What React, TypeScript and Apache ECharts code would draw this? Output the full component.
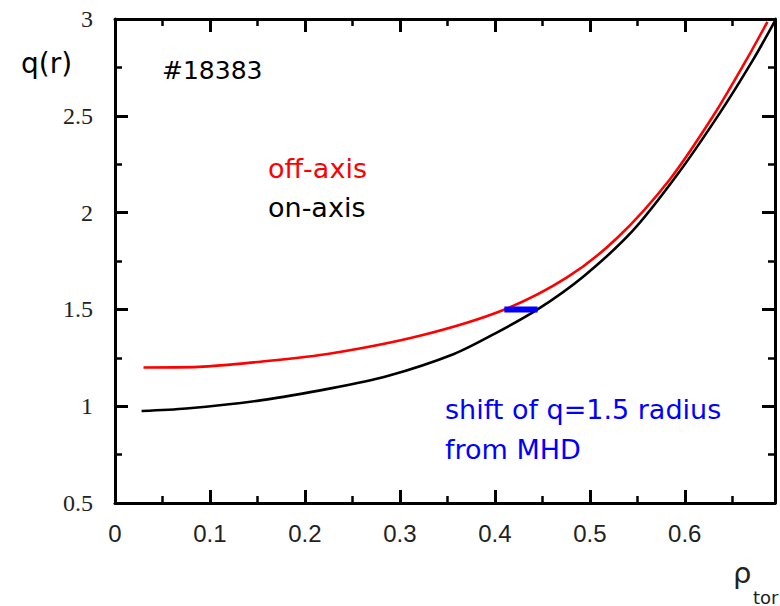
import React, { useEffect, useRef } from "react";
import * as echarts from "echarts";

// q-profile for shot #18383: off-axis vs on-axis heating
const offAxisRho = [0.030, 0.088, 0.153, 0.227, 0.322, 0.409, 0.476, 0.529, 0.584, 0.630, 0.665, 0.687];
const offAxisQ = [1.200, 1.203, 1.230, 1.272, 1.365, 1.497, 1.665, 1.870, 2.170, 2.500, 2.790, 2.985];

const onAxisRho = [0.028, 0.075, 0.153, 0.227, 0.287, 0.357, 0.400, 0.445, 0.493, 0.545, 0.592, 0.637, 0.672, 0.695];
const onAxisQ = [0.975, 0.988, 1.030, 1.092, 1.156, 1.270, 1.375, 1.500, 1.669, 1.905, 2.195, 2.515, 2.790, 2.990];

// q = 1.5 radius shift (off-axis → on-axis)
const shiftRho = [0.410, 0.445];
const shiftQ = [1.5, 1.5];

const xTickInterval = 0.1;
const yTickInterval = 0.5;

const pairs = (xs: number[], ys: number[]) => xs.map((x, i) => [x, ys[i]]);

export default function App() {
  const ref = useRef<HTMLDivElement>(null);

  useEffect(() => {
    if (!ref.current) return;
    const chart = echarts.init(ref.current, undefined, { renderer: "svg" });

    const frameLine = { show: true, onZero: false, lineStyle: { color: "#000", width: 3 } };
    const majorTick = { show: true, inside: true, length: 13, lineStyle: { color: "#000", width: 3 } };
    const minorTick = { show: true, splitNumber: 2, length: 7, lineStyle: { color: "#000", width: 2.5 } };

    chart.setOption({
      animation: false,
      backgroundColor: "#fff",
      grid: { left: 115, right: 5, top: 19, bottom: 103, containLabel: false },
      xAxis: [
        {
          type: "value",
          position: "bottom",
          min: 0,
          max: 0.695,
          interval: xTickInterval,
          axisLine: frameLine,
          axisTick: majorTick,
          minorTick,
          splitLine: { show: false },
          axisLabel: {
            margin: 18,
            showMaxLabel: false,
            fontFamily: "Liberation Sans",
            fontSize: 24,
            color: "#222",
          },
        },
        {
          type: "value",
          position: "top",
          min: 0,
          max: 0.695,
          interval: xTickInterval,
          axisLine: frameLine,
          axisTick: majorTick,
          minorTick,
          splitLine: { show: false },
          axisLabel: { show: false },
        },
      ],
      yAxis: [
        {
          type: "value",
          position: "left",
          min: 0.5,
          max: 3,
          interval: yTickInterval,
          axisLine: frameLine,
          axisTick: majorTick,
          minorTick,
          splitLine: { show: false },
          axisLabel: {
            margin: 22,
            fontFamily: "Liberation Serif",
            fontSize: 24,
            color: "#222",
          },
        },
        {
          type: "value",
          position: "right",
          min: 0.5,
          max: 3,
          interval: yTickInterval,
          axisLine: frameLine,
          axisTick: majorTick,
          minorTick,
          splitLine: { show: false },
          axisLabel: { show: false },
        },
      ],
      series: [
        {
          name: "off-axis",
          type: "line",
          data: pairs(offAxisRho, offAxisQ),
          smooth: 0.3,
          showSymbol: false,
          lineStyle: { color: "#ff0000", width: 2.6 },
          z: 3,
        },
        {
          name: "on-axis",
          type: "line",
          data: pairs(onAxisRho, onAxisQ),
          smooth: 0.3,
          showSymbol: false,
          lineStyle: { color: "#000", width: 2.6 },
          z: 3,
        },
        {
          name: "shift",
          type: "line",
          data: pairs(shiftRho, shiftQ),
          showSymbol: false,
          lineStyle: { color: "#0000ff", width: 6, cap: "butt" },
          z: 4,
        },
      ],
      graphic: [
        {
          type: "text",
          x: 21,
          y: 63,
          style: { text: "q(r)", font: '28px "DejaVu Sans"', fill: "#000", verticalAlign: "middle" },
        },
        {
          type: "text",
          x: 162,
          y: 70,
          style: { text: "#18383", font: '25px "DejaVu Sans"', fill: "#000", verticalAlign: "middle" },
        },
        {
          type: "text",
          x: 268,
          y: 168,
          style: { text: "off-axis", font: '27px "DejaVu Sans"', fill: "#ff0000", verticalAlign: "middle" },
        },
        {
          type: "text",
          x: 268,
          y: 207,
          style: { text: "on-axis", font: '27px "DejaVu Sans"', fill: "#000", verticalAlign: "middle" },
        },
        {
          type: "text",
          x: 445,
          y: 409,
          style: { text: "shift of q=1.5 radius", font: '27px "DejaVu Sans"', fill: "#0000ff", verticalAlign: "middle" },
        },
        {
          type: "text",
          x: 445,
          y: 449,
          style: { text: "from MHD", font: '27px "DejaVu Sans"', fill: "#0000ff", verticalAlign: "middle" },
        },
        {
          type: "text",
          x: 733,
          y: 573,
          style: { text: "ρ", font: '29px "DejaVu Sans"', fill: "#222", verticalAlign: "middle" },
        },
        {
          type: "text",
          x: 753,
          y: 597,
          style: { text: "tor", font: '18px "DejaVu Sans"', fill: "#222", verticalAlign: "middle" },
        },
      ],
    });

    return () => chart.dispose();
  }, []);

  return (
    <div
      ref={ref}
      style={{ position: "fixed", left: 0, top: 0, width: 780, height: 606, background: "#fff" }}
    />
  );
}
